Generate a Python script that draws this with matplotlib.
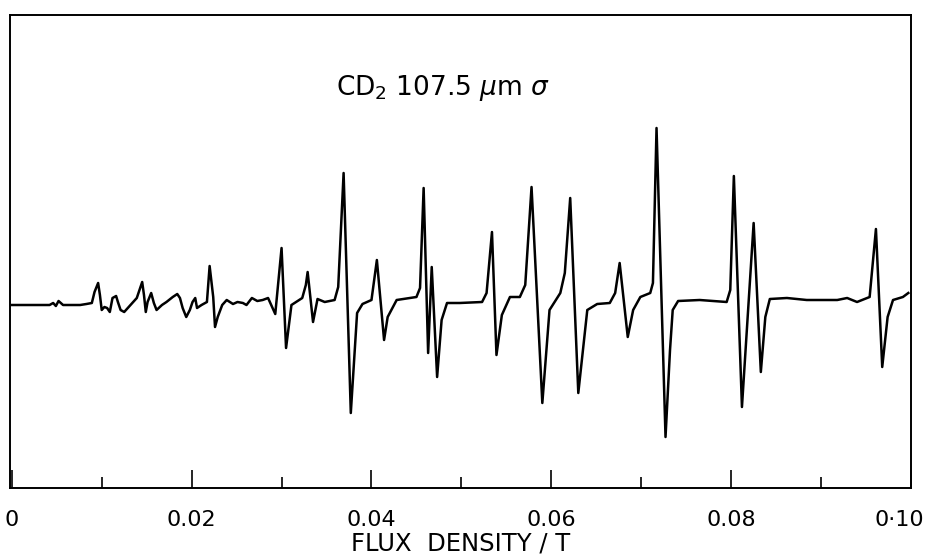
import matplotlib
matplotlib.use('Agg')
import matplotlib.pyplot as plt
import matplotlib.transforms as mtransforms
import numpy as np
from matplotlib.ticker import MultipleLocator

# trace: field in mT, signal in arbitrary units
field_mT = [0.0, 4.2, 4.6, 4.9, 5.2, 5.7, 7.6, 8.3, 8.9, 9.2,
            9.6, 9.8, 10.0, 10.3, 10.6, 10.9, 11.2, 11.6, 11.8, 12.1,
            12.5, 13.0, 13.5, 13.9, 14.2, 14.5, 14.7, 14.9, 15.1, 15.5,
            15.8, 16.1, 16.7, 17.2, 17.9, 18.4, 18.7, 19.0, 19.4, 19.8,
            20.1, 20.4, 20.6, 21.1, 21.7, 22.0, 22.4, 22.6, 22.9, 23.4,
            23.9, 24.6, 25.1, 25.7, 26.1, 26.7, 27.3, 27.9, 28.5, 29.3,
            30.0, 30.5, 31.1, 32.3, 32.7, 32.9, 33.5, 34.0, 34.8, 35.9,
            36.3, 36.9, 37.7, 38.4, 39.0, 40.0, 40.6, 41.4, 41.8, 42.8,
            45.0, 45.4, 45.8, 46.3, 46.7, 47.3, 47.8, 48.4, 49.8, 52.3,
            52.8, 53.4, 53.9, 54.5, 55.4, 56.5, 57.1, 57.8, 59.0, 59.8,
            61.0, 61.5, 62.1, 63.0, 64.0, 65.1, 66.5, 67.1, 67.6, 68.5,
            69.1, 69.9, 71.0, 71.3, 71.7, 72.7, 73.2, 73.5, 74.1, 76.5,
            79.5, 79.9, 80.3, 81.2, 82.5, 83.3, 83.8, 84.3, 86.2, 88.4,
            91.8, 92.9, 94.0, 95.4, 96.1, 96.8, 97.4, 98.0, 99.1, 99.7]

signal = [-2, -2, 0, -3, 2, -2, -2, -1, 0, 11,
          20, 8, -7, -4, -5, -9, 5, 7, 1, -7,
          -9, -4, 1, 5, 13, 21, 8, -9, 1, 10,
          0, -7, -2, 1, 6, 9, 5, -5, -14, -7,
          1, 5, -5, -2, 1, 37, 6, -24, -14, -2,
          3, -1, 1, 0, -2, 5, 2, 3, 5, -11,
          55, -45, -2, 5, 18, 31, -19, 4, 1, 3,
          16, 130, -110, -10, -1, 3, 43, -37, -14, 3,
          6, 15, 115, -50, 36, -74, -17, 0, 0, 1,
          10, 71, -52, -12, 6, 6, 18, 116, -100, -7,
          10, 30, 105, -90, -7, -1, 0, 10, 40, -34,
          -7, 6, 10, 20, 175, -134, -47, -7, 2, 3,
          1, 13, 127, -104, 80, -69, -14, 4, 5, 3,
          3, 5, 1, 6, 74, -64, -14, 3, 6, 10]

tick_pos = [0, 0.02, 0.04, 0.06, 0.08, 0.10]
tick_txt = ['0', '0.02', '0.04', '0.06', '0.08', '0\u00b710']

fig = plt.figure(figsize=(9.3, 5.56), dpi=100)
ax = fig.add_axes([10 / 930, 1 - 488 / 556, 901 / 930, 473 / 556])

B = np.asarray(field_mT) * 1e-3
ax.plot(B, signal, color='black', lw=1.8, solid_joinstyle='round')

ax.set_xlim(-0.0002, 0.1)
ax.set_ylim(-185, 288)

for s in ax.spines.values():
    s.set_linewidth(1.4)

ax.set_yticks([])
ax.set_xticks(tick_pos)
ax.set_xticklabels(tick_txt, fontsize=16)
ax.xaxis.set_minor_locator(MultipleLocator(0.01))
ax.tick_params(axis='x', which='major', direction='in', length=13, width=1.2, pad=16)
ax.tick_params(axis='x', which='minor', direction='in', length=8, width=1.2)

# last label sits a little left of its tick, as on the original
last = ax.get_xticklabels()[-1]
last.set_transform(last.get_transform() +
                   mtransforms.ScaledTranslation(-0.12, 0, fig.dpi_scale_trans))

ax.set_xlabel('FLUX  DENSITY / T', fontsize=17.5, labelpad=1)

ax.text(0.4806, 0.831, r'CD$_2$ 107.5 $\mu$m $\sigma$', transform=ax.transAxes,
        fontsize=19, ha='center', va='baseline')

plt.savefig('out.png', dpi=100)
